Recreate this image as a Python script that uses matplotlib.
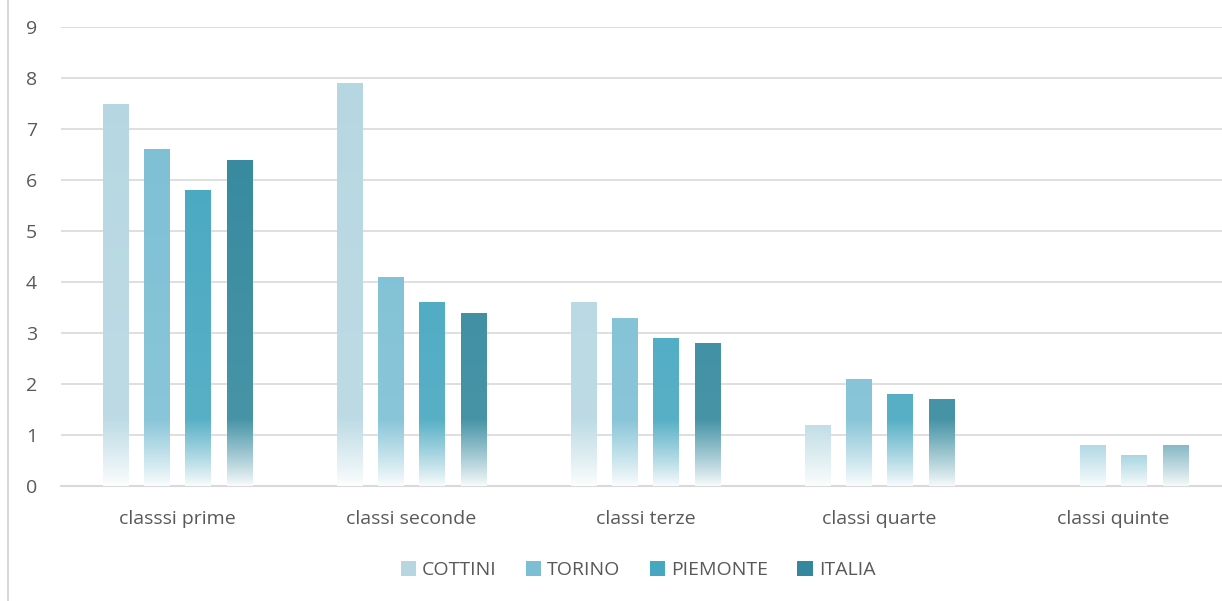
import numpy as np
import matplotlib.pyplot as plt
import matplotlib as mpl
from matplotlib.colors import to_rgb
from matplotlib.patches import Patch
from matplotlib.lines import Line2D

plt.rcParams['font.family'] = ['Open Sans', 'DejaVu Sans']

categories = ['classsi prime', 'classi seconde', 'classi terze', 'classi quarte', 'classi quinte']
series = ['COTTINI', 'TORINO', 'PIEMONTE', 'ITALIA']
cottini = [7.5, 7.9, 3.6, 1.2, 0.0]
torino = [6.6, 4.1, 3.3, 2.1, 0.8]
piemonte = [5.8, 3.6, 2.9, 1.8, 0.6]
italia = [6.4, 3.4, 2.8, 1.7, 0.8]
values = [cottini, torino, piemonte, italia]
colors = ['#b6d7e2', '#7cbfd4', '#45a7c0', '#33889d']

barwidth = 0.108
step = 0.176

fig = plt.figure(figsize=(12.22, 6.01), dpi=100)
# plot area runs a little past the right edge of the picture
ax = fig.add_axes([60.5 / 1222, 1 - 486 / 601, 1170 / 1222, (486 - 27) / 601])

x = np.arange(len(categories))
fade = 1.3  # height (in data units) of the white fade at the bottom

for i, (name, vals, c) in enumerate(zip(series, values, colors)):
    pos = x + (i - 1.5) * step
    bars = ax.bar(pos, vals, width=barwidth, color='none', edgecolor='none', zorder=3)
    rgb = np.array(to_rgb(c))
    for b, v in zip(bars, vals):
        if v <= 0:
            continue
        yy = np.linspace(v, 0, 200)[:, None]
        t = np.clip(yy / fade, 0, 1) ** 0.9
        t = 0.04 + 0.96 * t
        # slight lightening towards the bottom of the solid part too
        t = t * (0.88 + 0.12 * np.clip(yy / 8, 0, 1))
        img = (1 - t)[..., None] * np.ones(3) + t[..., None] * rgb
        img = np.repeat(img, 2, axis=1)
        im = ax.imshow(img, extent=[b.get_x(), b.get_x() + barwidth, 0, v],
                       aspect='auto', zorder=3, interpolation='bilinear')
        im.set_clip_path(b)

ax.set_xlim(-0.5, 4.5)
ax.set_ylim(0, 9)
ax.set_yticks(range(0, 10))
ax.set_xticks(x)
ax.set_xticklabels(categories)
ax.grid(axis='y', color='#d9d9d9', linewidth=1.2, zorder=0)
ax.set_axisbelow(True)
for s in ['top', 'right', 'left']:
    ax.spines[s].set_visible(False)
ax.spines['bottom'].set_color('#d9d9d9')
ax.spines['bottom'].set_linewidth(1.5)
ax.tick_params(axis='both', length=0, colors='#595959', labelsize=14)
ax.tick_params(axis='x', pad=17)
ax.tick_params(axis='y', pad=17)

handles = [Patch(facecolor=c, edgecolor='none') for c in colors]
fig.legend(handles, series, loc='center', bbox_to_anchor=(638 / 1222, 1 - 570 / 601),
           ncol=4, frameon=False, fontsize=14, handlelength=0.8, handleheight=0.8,
           handletextpad=0.3, columnspacing=1.5, labelcolor='#595959')

fig.add_artist(Line2D([8 / 1222, 8 / 1222], [0, 1], color='#d9d9d9', linewidth=1.5))

plt.savefig('out.png', dpi=100)
